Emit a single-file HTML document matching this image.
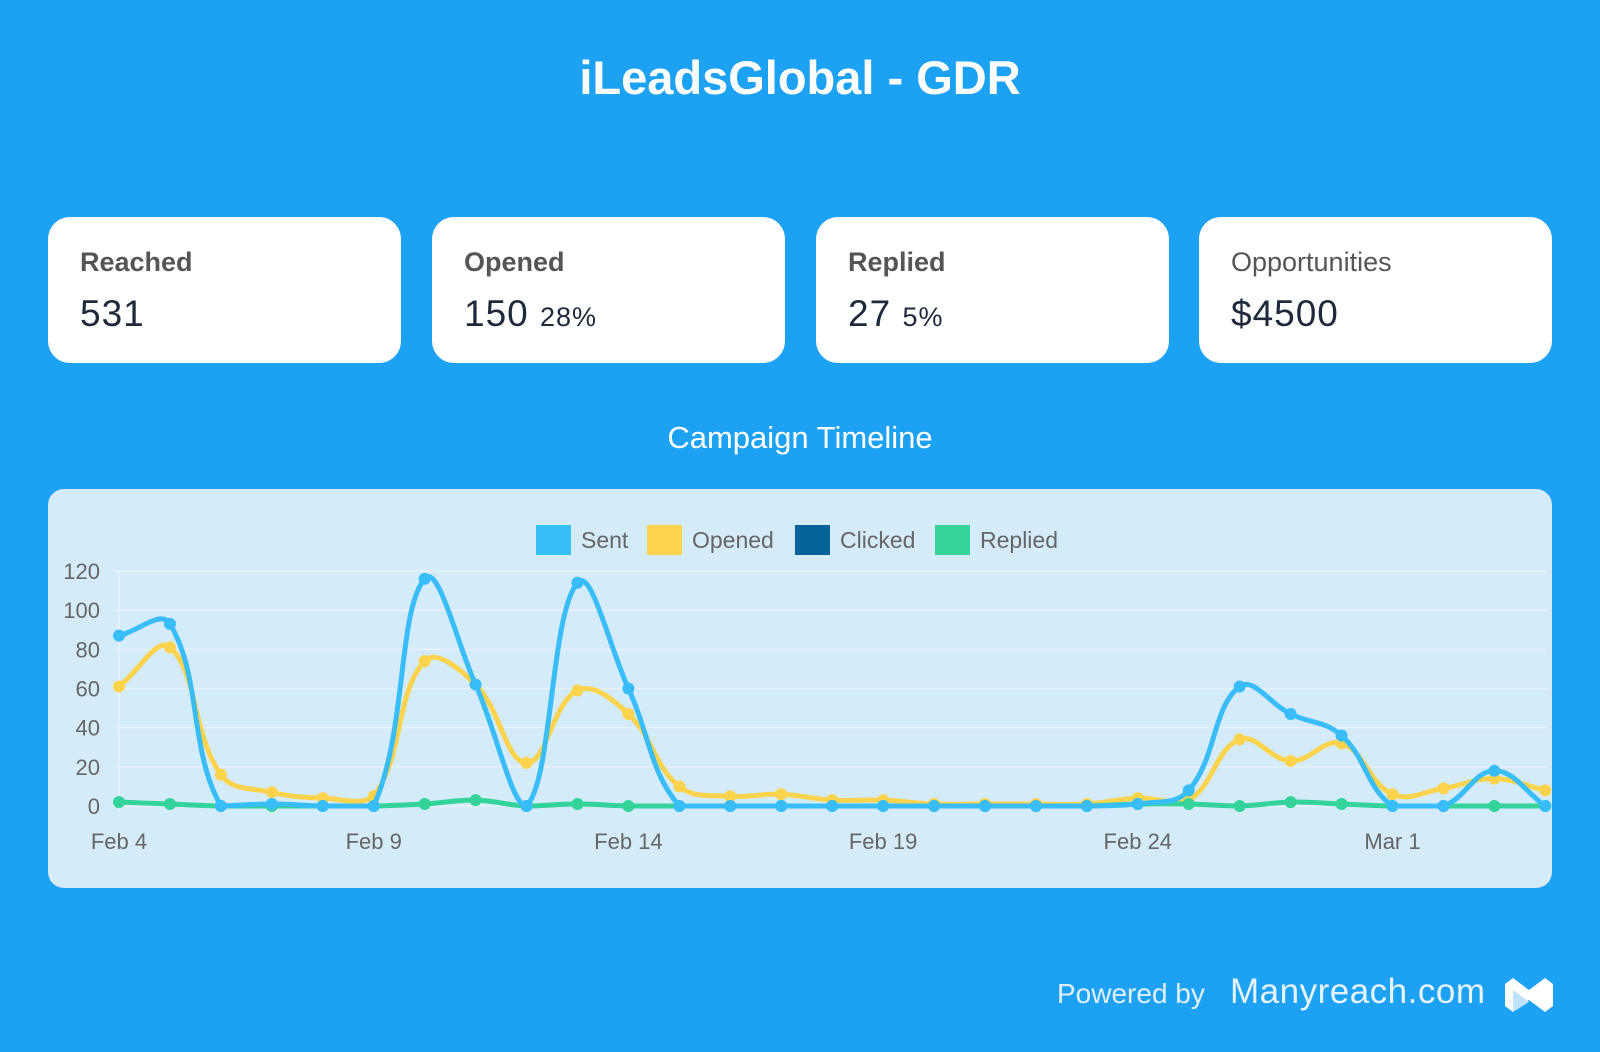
<!DOCTYPE html>
<html><head><meta charset="utf-8">
<style>
body{margin:0;width:1600px;height:1052px;background:#1da1f2;font-family:"Liberation Sans",sans-serif;position:relative;overflow:hidden}
.t{position:absolute;left:0;width:1600px;text-align:center;color:#fff}
.card{position:absolute;top:217px;width:353px;height:146px;background:#fff;border-radius:22px}
.card .l{position:absolute;left:32px;top:30px;font-size:27px;font-weight:bold;color:#555}
.card .v{position:absolute;left:32px;top:76px;font-size:37px;color:#1e293b;letter-spacing:1px}
.card .v small{font-size:27px}
.panel{position:absolute;left:48px;top:489px;width:1504px;height:399px;background:#d4ebfa;border-radius:16px}
svg{position:absolute;left:0;top:0}
</style></head><body>
<div class="t" style="top:50px;font-size:47px;font-weight:bold">iLeadsGlobal - GDR</div>
<div class="card" style="left:48px"><div class="l">Reached</div><div class="v">531</div></div>
<div class="card" style="left:432px"><div class="l">Opened</div><div class="v">150 <small>28%</small></div></div>
<div class="card" style="left:816px"><div class="l">Replied</div><div class="v">27 <small>5%</small></div></div>
<div class="card" style="left:1199px"><div class="l" style="font-weight:normal">Opportunities</div><div class="v">$4500</div></div>
<div class="t" style="top:420px;font-size:31px">Campaign Timeline</div>
<div class="panel"></div>
<svg id="s" width="1600" height="1052" font-family="Liberation Sans, sans-serif"></svg>
<div style="position:absolute;left:1057px;top:978px;font-size:28px;color:#dff1fd">Powered by</div>
<div style="position:absolute;left:1230px;top:972px;font-size:35px;color:#e6f4fd;letter-spacing:0.5px">Manyreach.com</div>
<svg style="left:1505px;top:978px" width="48" height="34" viewBox="0 0 48 34"><path d="M0 6 L8 0 L24 12 L40 0 L48 6 L48 28 L40 34 L24 22 L8 34 L0 28Z" fill="#fff"/><path d="M8 12 L24 24 L8 34Z" fill="#bfe3fb"/></svg>
<script>
const s=document.getElementById('s');let h='';
const X0=119,DX=50.94,Y0=806,YS=(806-571)/120;
for(let v=0;v<=120;v+=20){const y=Y0-v*YS;h+=`<line x1="113" x2="1546" y1="${y}" y2="${y}" stroke="#e8f2fa" stroke-width="1.5"/><text x="100" y="${y+8}" text-anchor="end" font-size="22" fill="#666">${v}</text>`;}
h+=`<line x1="${X0}" x2="${X0}" y1="571" y2="812" stroke="#e8f2fa" stroke-width="1.5"/>`;
[["Feb 4",0],["Feb 9",5],["Feb 14",10],["Feb 19",15],["Feb 24",20],["Mar 1",25]].forEach(a=>{h+=`<text x="${X0+a[1]*DX}" y="849" text-anchor="middle" font-size="22" fill="#666">${a[0]}</text>`});
const L=[["Sent","#38bdf8",536],["Opened","#fcd34d",647],["Clicked","#036399",795],["Replied","#34d399",935]];
L.forEach(l=>{h+=`<rect x="${l[2]}" y="525" width="35" height="30" fill="${l[1]}"/><text x="${l[2]+45}" y="548" font-size="23" fill="#666">${l[0]}</text>`});
const D={
r:[2,1,0,0,0,0,1,3,0,1,0,0,0,0,0,0,0,0,0,0,1,1,0,2,1,0,0,0,0],
o:[61,81,16,7,4,5,74,62,22,59,47,10,5,6,3,3,1,1,1,1,4,3,34,23,32,6,9,14,8],
s:[87,93,0,1,0,0,116,62,0,114,60,0,0,0,0,0,0,0,0,0,1,8,61,47,36,0,0,18,0]};
function path(d){const p=d.map((v,i)=>[X0+i*DX,Y0-v*YS]);const t=0.4;let str=`M${p[0][0]},${p[0][1]}`;
const cp=p.map((c,i)=>{const a=p[Math.max(i-1,0)],b=p[Math.min(i+1,p.length-1)];const d01=Math.hypot(c[0]-a[0],c[1]-a[1]),d12=Math.hypot(b[0]-c[0],b[1]-c[1]);let fa=d01/(d01+d12)||0,fb=d12/(d01+d12)||0;fa*=t;fb*=t;return[[c[0]-fa*(b[0]-a[0]),c[1]-fa*(b[1]-a[1])],[c[0]+fb*(b[0]-a[0]),c[1]+fb*(b[1]-a[1])]]});
for(let i=1;i<p.length;i++){const c1=cp[i-1][1],c2=cp[i][0];str+=`C${c1[0]},${Math.min(c1[1],Y0)} ${c2[0]},${Math.min(c2[1],Y0)} ${p[i][0]},${p[i][1]}`;}
return [str,p];}
[["o","#fcd34d"],["r","#34d399"],["s","#38bdf8"]].forEach(k=>{const [d,p]=path(D[k[0]]);h+=`<path d="${d}" fill="none" stroke="${k[1]}" stroke-width="5"/>`;p.forEach(q=>{h+=`<circle cx="${q[0]}" cy="${q[1]}" r="6" fill="${k[1]}"/>`})});
s.innerHTML=h;
</script>
</body></html>
